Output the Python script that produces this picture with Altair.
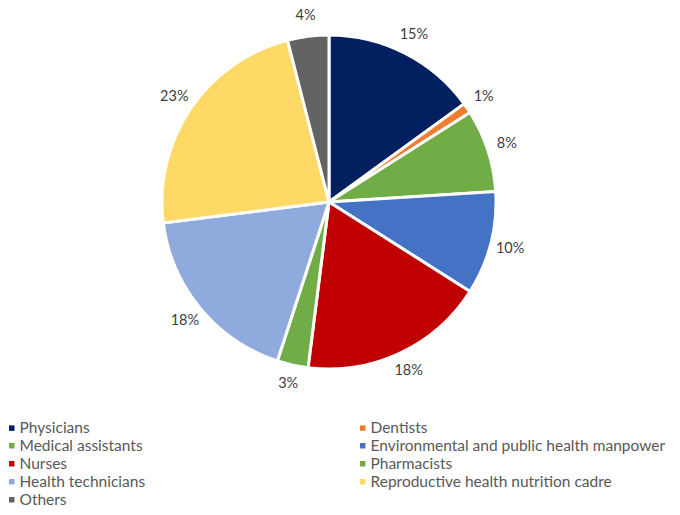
import altair as alt
import pandas as pd

categories = ["Physicians", "Dentists", "Medical assistants",
              "Environmental and public health manpower", "Nurses",
              "Pharmacists", "Health technicians",
              "Reproductive health nutrition cadre", "Others"]
values = [15, 1, 8, 10, 18, 3, 18, 23, 4]
colors = ["#002060", "#ED7D31", "#70AD47", "#4472C4", "#C00000",
          "#70AD47", "#8FAADC", "#FFD966", "#636363"]

df = pd.DataFrame({
    "category": categories,
    "value": values,
    "order": list(range(len(categories))),
    "label": [f"{v}%" for v in values],
})

FONT = "Lato"
CX, CY = 321, 186

base = alt.Chart(df).encode(
    theta=alt.Theta("value:Q", stack=True),
    order=alt.Order("order:Q"),
)

pie = base.mark_arc(radius=167, stroke="white", strokeWidth=3).encode(
    x=alt.value(CX), y=alt.value(CY),
    color=alt.Color(
        "category:N",
        scale=alt.Scale(domain=categories, range=colors),
        sort=categories,
        legend=alt.Legend(
            title=None, orient="none", legendX=-4, legendY=404,
            columns=2, direction="horizontal", gridAlign="all", columnPadding=40,
            symbolType="square", symbolSize=30, symbolStrokeWidth=0,
            labelFont=FONT, labelFontSize=15.5, labelColor="#595959",
            labelOffset=0, rowPadding=1, labelLimit=400,
        ),
    ),
)

text = base.mark_text(radius=187, font=FONT, fontSize=14.5, color="#404040").encode(
    x=alt.value(CX), y=alt.value(CY),
    text="label:N",
)

chart = alt.layer(pie, text).properties(
    width=664, height=491,
    padding={"top": 8, "left": 0, "right": 0, "bottom": 0},
    autosize=alt.AutoSizeParams(type="none"),
).configure_view(stroke=None)

chart.save("out.html", embed_options={"renderer": "svg", "actions": False})
